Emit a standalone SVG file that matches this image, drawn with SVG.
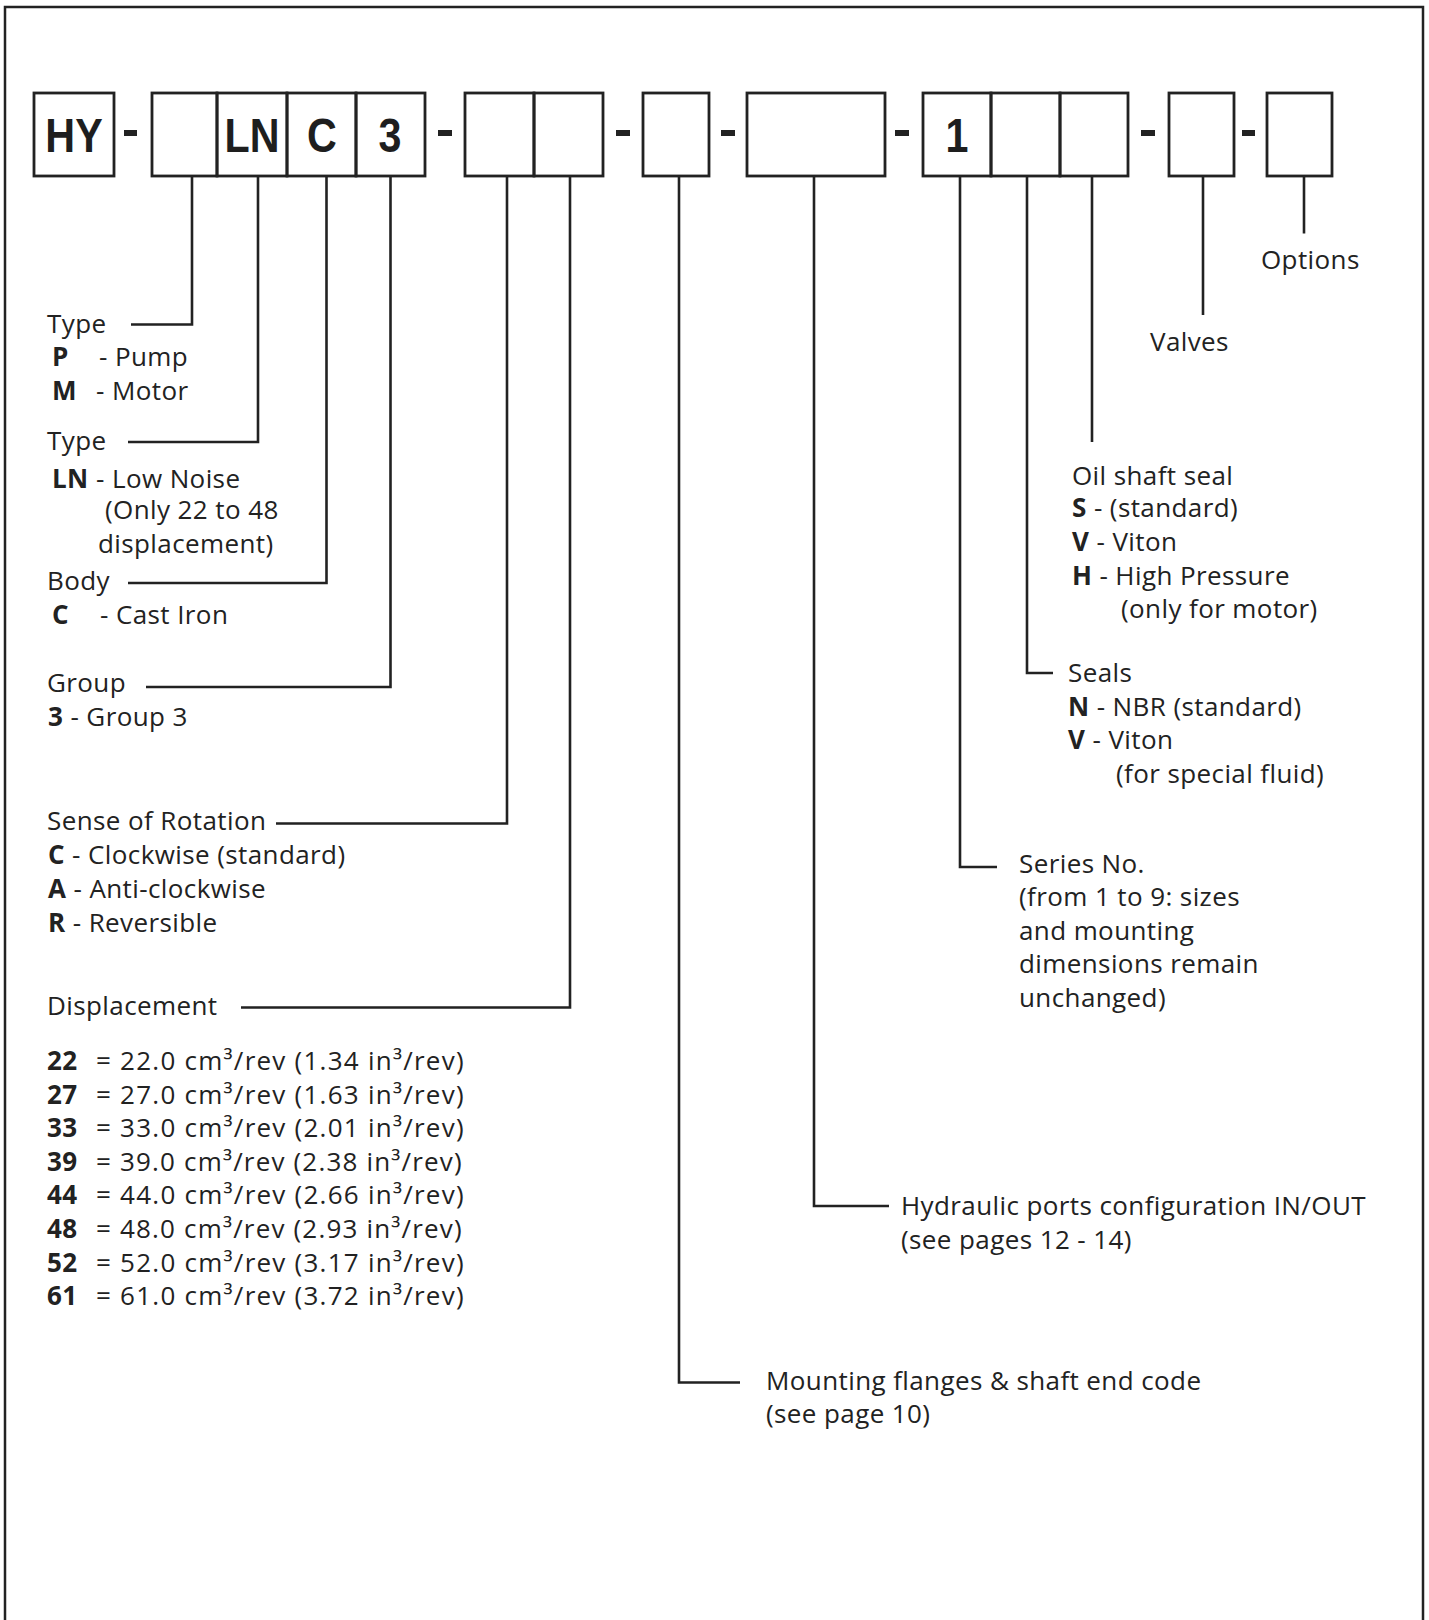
<svg xmlns="http://www.w3.org/2000/svg" width="1429" height="1620" viewBox="0 0 1429 1620">
<style>
.box{fill:none;stroke:#222;stroke-width:2.8}
.dash{fill:#222}
.code{font-family:"Liberation Sans",Arial,sans-serif;font-weight:bold;font-size:48px;fill:#1e1e1e;text-anchor:middle}
.t{font-family:"Open Sans","Noto Sans",sans-serif;font-size:26px;letter-spacing:0.4px;fill:#222}
.b{font-weight:bold}
.ln{fill:none;stroke:#222;stroke-width:2.6}
</style>
<rect width="1429" height="1620" fill="#fff"/>
<path id="frame" d="M5,1620 V7 H1423 V1620" fill="none" stroke="#222" stroke-width="2.5"/>

<g id="code-boxes">
  <g id="box-hy"><rect class="box" x="34" y="93" width="80" height="83"/><text class="code" x="74" y="152" transform="translate(74 0) scale(0.86 1) translate(-74 0)">HY</text></g>
  <rect class="dash" x="124" y="130" width="13" height="6"/>
  <g id="box-type"><rect class="box" x="152" y="93" width="65" height="83"/></g>
  <g id="box-ln"><rect class="box" x="217" y="93" width="70" height="83"/><text class="code" x="252" y="152" transform="translate(252 0) scale(0.86 1) translate(-252 0)">LN</text></g>
  <g id="box-c"><rect class="box" x="287" y="93" width="69" height="83"/><text class="code" x="322" y="152" transform="translate(322 0) scale(0.86 1) translate(-322 0)">C</text></g>
  <g id="box-3"><rect class="box" x="356" y="93" width="69" height="83"/><text class="code" x="390" y="152" transform="translate(390 0) scale(0.86 1) translate(-390 0)">3</text></g>
  <rect class="dash" x="438" y="130" width="14" height="6"/>
  <g id="box-rot"><rect class="box" x="465" y="93" width="69" height="83"/></g>
  <g id="box-disp"><rect class="box" x="534" y="93" width="69" height="83"/></g>
  <rect class="dash" x="616" y="130" width="14" height="6"/>
  <g id="box-mount"><rect class="box" x="643" y="93" width="66" height="83"/></g>
  <rect class="dash" x="721" y="130" width="14" height="6"/>
  <g id="box-ports"><rect class="box" x="747" y="93" width="138" height="83"/></g>
  <rect class="dash" x="895" y="130" width="14" height="6"/>
  <g id="box-series"><rect class="box" x="923" y="93" width="68" height="83"/><text class="code" x="957" y="152" transform="translate(957 0) scale(0.86 1) translate(-957 0)">1</text></g>
  <g id="box-seals"><rect class="box" x="991" y="93" width="69" height="83"/></g>
  <g id="box-shaft"><rect class="box" x="1060" y="93" width="68" height="83"/></g>
  <rect class="dash" x="1141" y="130" width="14" height="6"/>
  <g id="box-valves"><rect class="box" x="1169" y="93" width="65" height="83"/></g>
  <rect class="dash" x="1242" y="130" width="13" height="6"/>
  <g id="box-options"><rect class="box" x="1267" y="93" width="65" height="83"/></g>
</g>

<g id="connectors">
  <path class="ln" d="M192,177 V324.5 H131"/>
  <path class="ln" d="M258,177 V442 H128"/>
  <path class="ln" d="M326.5,177 V583 H128"/>
  <path class="ln" d="M390.5,177 V687 H146"/>
  <path class="ln" d="M507,177 V823.5 H276"/>
  <path class="ln" d="M570,177 V1007.5 H241"/>
  <path class="ln" d="M679,177 V1382.5 H740"/>
  <path class="ln" d="M814,177 V1206 H889"/>
  <path class="ln" d="M960,177 V867 H997"/>
  <path class="ln" d="M1027,177 V673 H1053"/>
  <path class="ln" d="M1092,177 V442"/>
  <path class="ln" d="M1203,177 V315"/>
  <path class="ln" d="M1304,177 V233.5"/>
</g>

<g id="label-type1">
  <text class="t" x="47" y="333">Type</text>
  <text class="t" y="366"><tspan class="b" x="52">P</tspan><tspan x="99">- Pump</tspan></text>
  <text class="t" y="400"><tspan class="b" x="52">M</tspan><tspan x="96">- Motor</tspan></text>
</g>
<g id="label-type2">
  <text class="t" x="47" y="450">Type</text>
  <text class="t" y="488"><tspan class="b" x="52">LN</tspan><tspan x="96">- Low Noise</tspan></text>
  <text class="t" x="105" y="519">(Only 22 to 48</text>
  <text class="t" x="98" y="553">displacement)</text>
</g>
<g id="label-body">
  <text class="t" x="47" y="590">Body</text>
  <text class="t" y="624"><tspan class="b" x="52">C</tspan><tspan x="100">- Cast Iron</tspan></text>
</g>
<g id="label-group">
  <text class="t" x="47" y="692">Group</text>
  <text class="t" x="48" y="726"><tspan class="b">3</tspan> - Group 3</text>
</g>
<g id="label-rotation">
  <text class="t" x="47" y="830">Sense of Rotation</text>
  <text class="t" x="48" y="864"><tspan class="b">C</tspan> - Clockwise (standard)</text>
  <text class="t" x="48" y="898"><tspan class="b">A</tspan> - Anti-clockwise</text>
  <text class="t" x="48" y="932"><tspan class="b">R</tspan> - Reversible</text>
</g>
<g id="label-displacement">
  <text class="t" x="47" y="1015">Displacement</text>
  <text class="t b" x="47" y="1070">22</text><text class="t" x="96" y="1070" textLength="368" lengthAdjust="spacing">= 22.0 cm³/rev (1.34 in³/rev)</text>
  <text class="t b" x="47" y="1104">27</text><text class="t" x="96" y="1104" textLength="368" lengthAdjust="spacing">= 27.0 cm³/rev (1.63 in³/rev)</text>
  <text class="t b" x="47" y="1137">33</text><text class="t" x="96" y="1137" textLength="368" lengthAdjust="spacing">= 33.0 cm³/rev (2.01 in³/rev)</text>
  <text class="t b" x="47" y="1171">39</text><text class="t" x="96" y="1171" textLength="366" lengthAdjust="spacing">= 39.0 cm³/rev (2.38 in³/rev)</text>
  <text class="t b" x="47" y="1204">44</text><text class="t" x="96" y="1204" textLength="368" lengthAdjust="spacing">= 44.0 cm³/rev (2.66 in³/rev)</text>
  <text class="t b" x="47" y="1238">48</text><text class="t" x="96" y="1238" textLength="366" lengthAdjust="spacing">= 48.0 cm³/rev (2.93 in³/rev)</text>
  <text class="t b" x="47" y="1272">52</text><text class="t" x="96" y="1272" textLength="368" lengthAdjust="spacing">= 52.0 cm³/rev (3.17 in³/rev)</text>
  <text class="t b" x="47" y="1305">61</text><text class="t" x="96" y="1305" textLength="368" lengthAdjust="spacing">= 61.0 cm³/rev (3.72 in³/rev)</text>
</g>
<g id="label-options"><text class="t" x="1261" y="269">Options</text></g>
<g id="label-valves"><text class="t" x="1150" y="351">Valves</text></g>
<g id="label-shaftseal">
  <text class="t" x="1072" y="485">Oil shaft seal</text>
  <text class="t" x="1072" y="517"><tspan class="b">S</tspan> - (standard)</text>
  <text class="t" x="1072" y="551"><tspan class="b">V</tspan> - Viton</text>
  <text class="t" x="1072" y="585"><tspan class="b">H</tspan> - High Pressure</text>
  <text class="t" x="1121" y="618">(only for motor)</text>
</g>
<g id="label-seals">
  <text class="t" x="1068" y="682">Seals</text>
  <text class="t" x="1068" y="716"><tspan class="b">N</tspan> - NBR (standard)</text>
  <text class="t" x="1068" y="749"><tspan class="b">V</tspan> - Viton</text>
  <text class="t" x="1116" y="783">(for special fluid)</text>
</g>
<g id="label-series">
  <text class="t" x="1019" y="873">Series No.</text>
  <text class="t" x="1019" y="906">(from 1 to 9: sizes</text>
  <text class="t" x="1019" y="940">and mounting</text>
  <text class="t" x="1019" y="973">dimensions remain</text>
  <text class="t" x="1019" y="1007">unchanged)</text>
</g>
<g id="label-ports">
  <text class="t" x="901" y="1215">Hydraulic ports configuration IN/OUT</text>
  <text class="t" x="901" y="1249">(see pages 12 - 14)</text>
</g>
<g id="label-mounting">
  <text class="t" x="766" y="1390">Mounting flanges &amp; shaft end code</text>
  <text class="t" x="766" y="1423">(see page 10)</text>
</g>
</svg>
